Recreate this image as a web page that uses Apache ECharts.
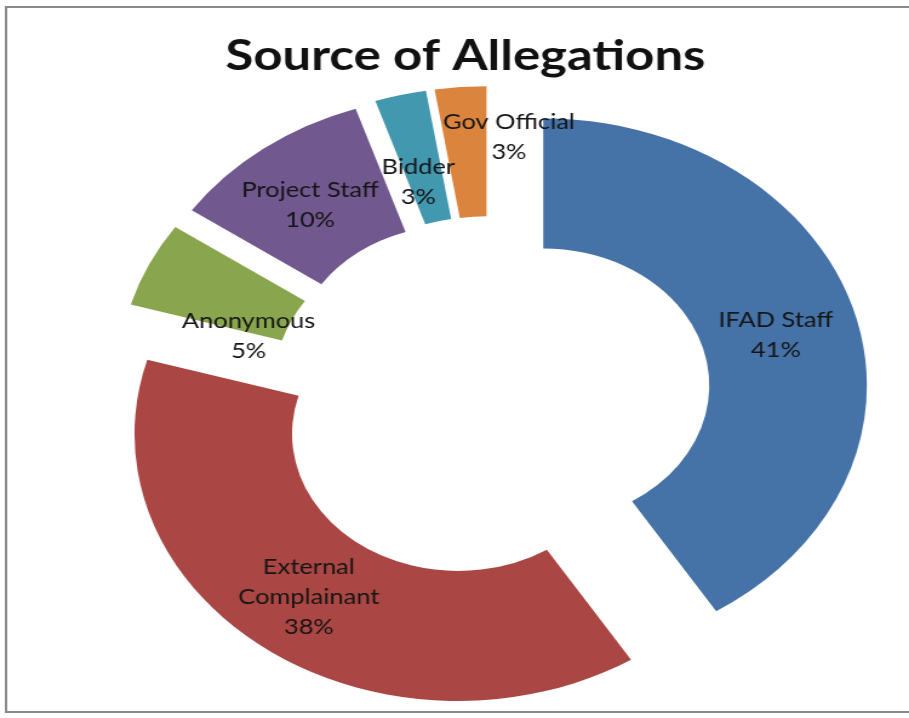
<!DOCTYPE html>
<html>
<head>
<meta charset="utf-8">
<script src="https://cdn.jsdelivr.net/npm/echarts@6/dist/echarts.min.js"></script>
<style>
  html, body { margin: 0; padding: 0; background: #ffffff; overflow: hidden; }
  #wrap { width: 909px; height: 718px; overflow: hidden; position: relative; }
  #chart { width: 750px; height: 718px; transform: scaleX(1.212); transform-origin: 0 0; }
</style>
</head>
<body>
<div id="wrap"><div id="chart"></div></div>
<script>
// ---- data ----
const titleText = 'Source of Allegations';
const categories = ['IFAD Staff', 'External Complainant', 'Anonymous', 'Project Staff', 'Bidder', 'Gov Official'];
const labelNames = ['IFAD Staff', 'External\nComplainant', 'Anonymous', 'Project Staff', 'Bidder', 'Gov Official'];
const counts = [16, 15, 2, 4, 1, 1];
const colors = ['#4572A7', '#AA4643', '#89A54E', '#71588F', '#4198AF', '#DB843D'];

// label nudges (dx, dy) per slice, in px
const labelShift = { 0: [-5, 7], 1: [0, -1], 2: [26, 45], 3: [1, 7], 4: [0, 27], 5: [35, -12] };

const chart = echarts.init(document.getElementById('chart'), null, { renderer: 'canvas' });

const option = {
  animation: false,
  backgroundColor: '#ffffff',
  graphic: [{
    type: 'rect',
    silent: true,
    shape: { x: 5, y: 7, width: 800, height: 705 },
    style: { fill: 'transparent', stroke: '#8a8a8a', lineWidth: 2 }
  }],
  title: {
    text: titleText,
    left: 379,
    top: 30,
    textAlign: 'center',
    textStyle: { fontFamily: 'Lato', fontWeight: 'bold', fontSize: 42, color: '#111111' }
  },
  series: [{
    type: 'pie',
    center: [405, 398],
    radius: [137, 267],
    startAngle: 90,
    clockwise: true,
    selectedMode: 'multiple',
    selectedOffset: 45,
    avoidLabelOverlap: false,
    percentPrecision: 0,
    emphasis: { disabled: true },
    label: {
      show: true,
      position: 'inside',
      fontFamily: 'Lato',
      fontSize: 21,
      lineHeight: 30,
      color: '#151515',
      formatter: function (p) { return labelNames[p.dataIndex] + '\n' + p.percent + '%'; }
    },
    labelLine: { show: false },
    labelLayout: function (params) {
      const s = labelShift[params.dataIndex];
      return s ? { dx: s[0], dy: s[1] } : {};
    },
    data: categories.map(function (c, i) {
      return { name: c, value: counts[i], selected: true, itemStyle: { color: colors[i] } };
    })
  }]
};

chart.setOption(option);
</script>
</body>
</html>
